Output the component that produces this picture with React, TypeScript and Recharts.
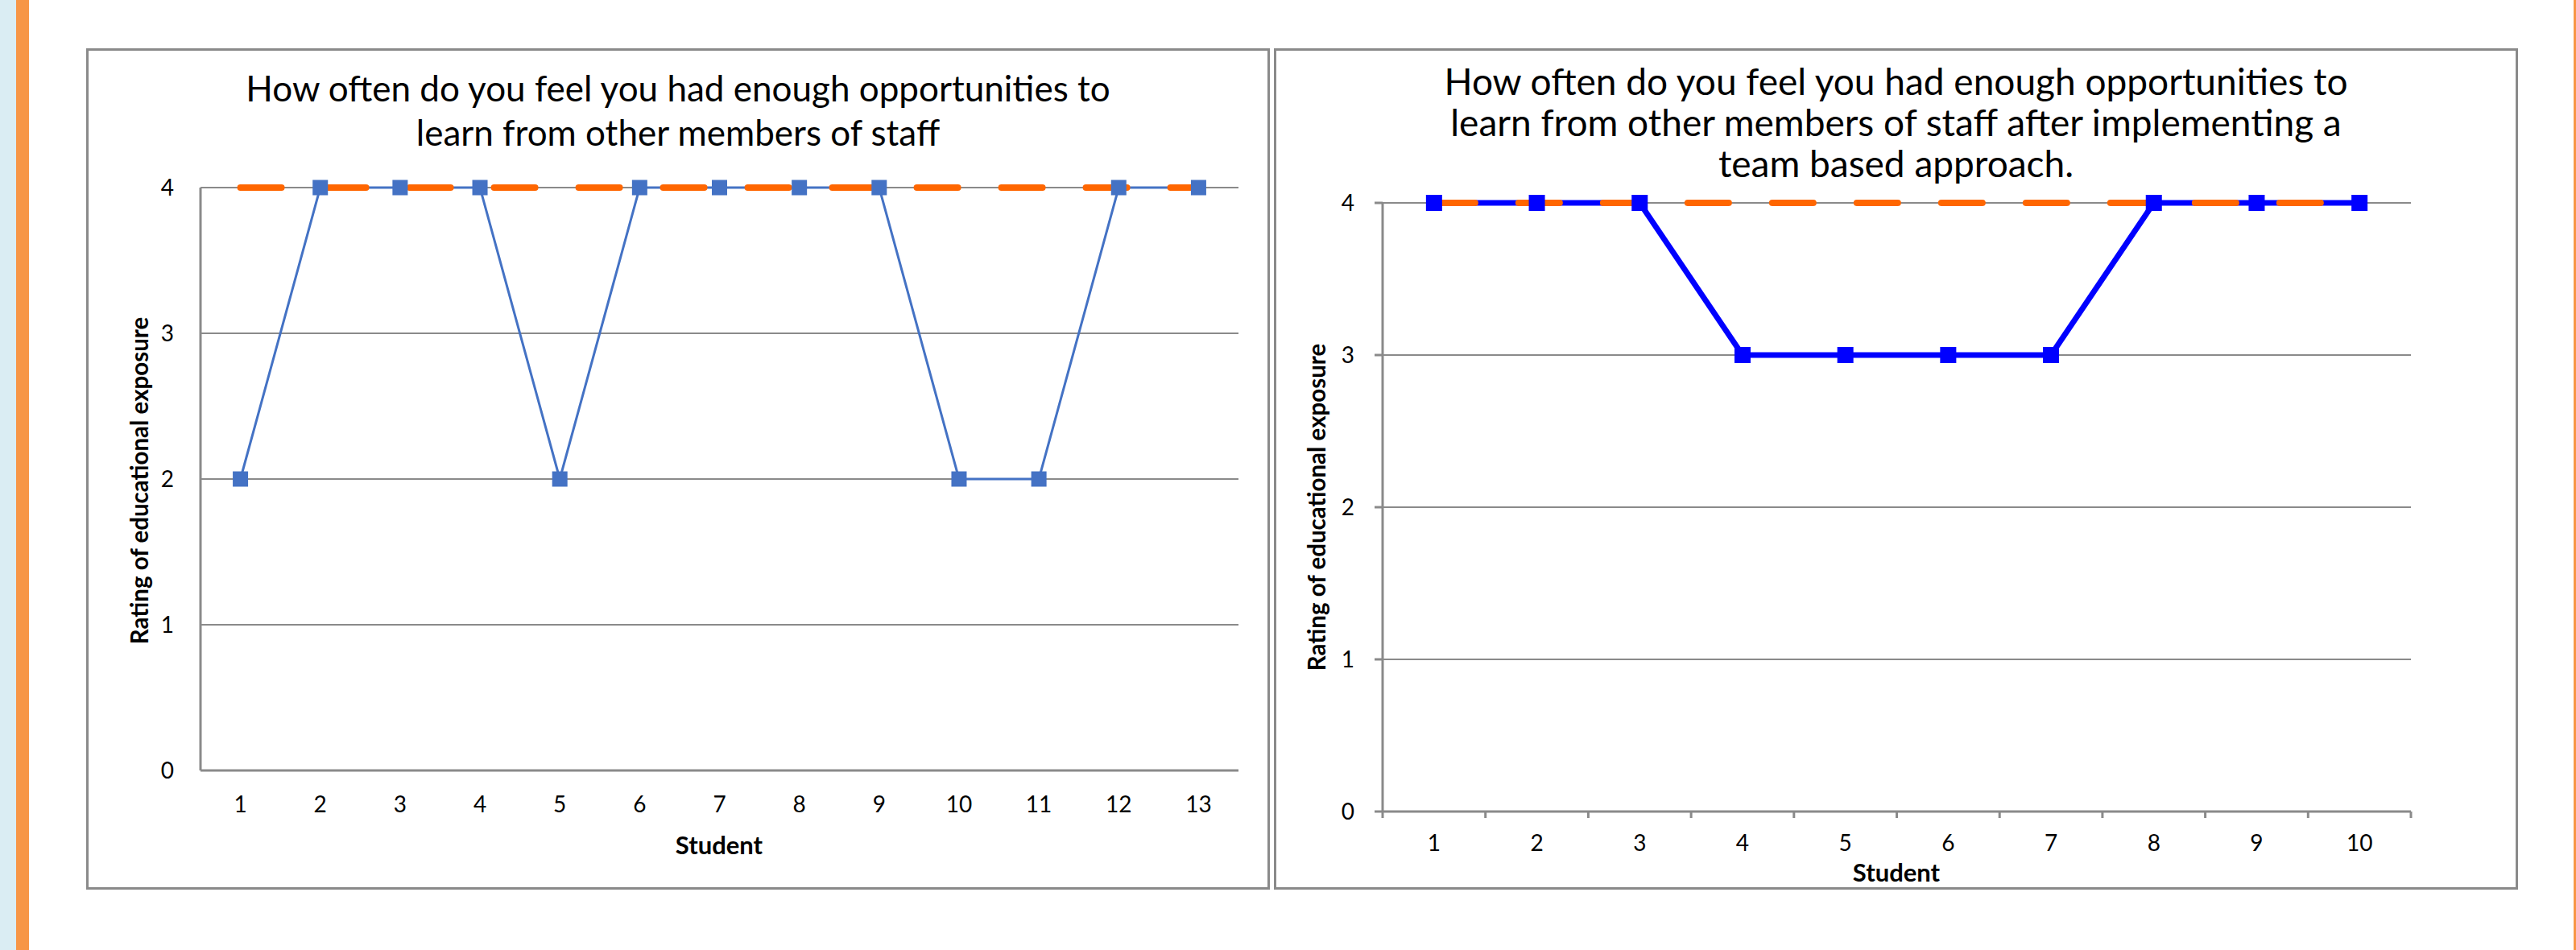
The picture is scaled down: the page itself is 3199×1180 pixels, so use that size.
import React from "react";
import { LineChart, Line, XAxis, YAxis, CartesianGrid } from "recharts";

// before: 13 students, after: 10 students (team based approach)
const beforeStudents = [1, 2, 3, 4, 5, 6, 7, 8, 9, 10, 11, 12, 13];
const beforeRatings = [2, 4, 4, 4, 2, 4, 4, 4, 4, 2, 2, 4, 4];
const beforeTarget = [4, 4, 4, 4, 4, 4, 4, 4, 4, 4, 4, 4, 4];

const afterStudents = [1, 2, 3, 4, 5, 6, 7, 8, 9, 10];
const afterRatings = [4, 4, 4, 3, 3, 3, 3, 4, 4, 4];
const afterTarget = [4, 4, 4, 4, 4, 4, 4, 4, 4, 4];

const yTicks = [0, 1, 2, 3, 4];

const beforeTitle = [
  "How often do you feel you had enough opportunities to",
  "learn from other members of staff",
];
const afterTitle = [
  "How often do you feel you had enough opportunities to",
  "learn from other members of staff after implementing a",
  "team based approach.",
];

const GRID = "#8a8a8a";
const FONT = "Lato, 'Open Sans', sans-serif";
const tickStyle = { fontSize: 28, fill: "#000", fontFamily: FONT };

const beforeData = beforeStudents.map((s, i) => ({
  student: s,
  rating: beforeRatings[i],
  target: beforeTarget[i],
}));
const afterData = afterStudents.map((s, i) => ({
  student: s,
  rating: afterRatings[i],
  target: afterTarget[i],
}));

const squareDot = (color: string, size: number) => (props: any) => {
  const { cx, cy, index } = props;
  if (cx == null || cy == null) return <g key={`d-${index}`} />;
  return (
    <rect
      key={`d-${index}`}
      x={cx - size / 2}
      y={cy - size / 2}
      width={size}
      height={size}
      fill={color}
    />
  );
};

// tick mark only, no label
const noLabel = (props: any) => <g key={`e-${props.index}`} />;

const Box = ({ x, y, w, h }: { x: number; y: number; w: number; h: number }) => (
  <div
    style={{
      position: "absolute",
      left: x,
      top: y,
      width: w,
      height: h,
      border: `3px solid ${GRID}`,
      boxSizing: "border-box",
      pointerEvents: "none",
    }}
  />
);

const Title = ({ lines, x, w, top, size, lh }: any) => (
  <div
    style={{
      position: "absolute",
      left: x,
      top,
      width: w,
      textAlign: "center",
      fontSize: size,
      lineHeight: `${lh}px`,
      color: "#000",
    }}
  >
    {lines.map((l: string) => (
      <div key={l}>{l}</div>
    ))}
  </div>
);

const AxisTitle = ({ text, cx, cy, rotate, size }: any) => (
  <div
    style={{
      position: "absolute",
      left: cx - 300,
      top: cy - 20,
      width: 600,
      height: 40,
      lineHeight: "40px",
      textAlign: "center",
      fontSize: size,
      fontWeight: 700,
      color: "#000",
      transform: rotate ? "rotate(-90deg)" : undefined,
    }}
  >
    {text}
  </div>
);

export default function App() {
  const edgeTicks = [0.5, ...afterStudents.map((s) => s + 0.5)];

  return (
    <div
      style={{
        position: "absolute",
        left: 0,
        top: 0,
        width: 3199,
        height: 1180,
        background: "#fff",
        fontFamily: FONT,
        overflow: "hidden",
      }}
    >
      <div style={{ position: "absolute", left: 0, top: 0, width: 20, height: 1180, background: "#DAEDF3" }} />
      <div style={{ position: "absolute", left: 20, top: 0, width: 16, height: 1180, background: "#F79646" }} />
      <div style={{ position: "absolute", left: 3196, top: 0, width: 3, height: 1180, background: "#F79646" }} />

      {/* left chart */}
      <div style={{ position: "absolute", left: 107, top: 60 }}>
        <LineChart
          width={1470}
          height={1045}
          data={beforeData}
          margin={{ top: 173, right: 39, left: 82, bottom: 88 }}
        >
          <CartesianGrid vertical={false} stroke={GRID} strokeWidth={2} />
          <XAxis
            dataKey="student"
            type="number"
            domain={[0.5, 13.5]}
            ticks={beforeStudents}
            interval={0}
            tickLine={false}
            tickSize={0}
            tickMargin={32}
            height={60}
            axisLine={{ stroke: GRID, strokeWidth: 3 }}
            tick={tickStyle}
          />
          <YAxis
            type="number"
            domain={[0, 4]}
            ticks={yTicks}
            width={60}
            tickLine={false}
            tickSize={0}
            tickMargin={33}
            axisLine={{ stroke: GRID, strokeWidth: 3 }}
            tick={tickStyle}
          />
          <Line
            dataKey="rating"
            stroke="#4472C4"
            strokeWidth={3}
            dot={squareDot("#4472C4", 19)}
            isAnimationActive={false}
          />
          <Line
            dataKey="target"
            stroke="#FF6600"
            strokeWidth={8}
            strokeDasharray="51 54"
            strokeLinecap="round"
            dot={false}
            isAnimationActive={false}
          />
        </LineChart>
      </div>
      <Box x={107} y={60} w={1470} h={1045} />
      <Title lines={beforeTitle} x={107} w={1470} top={82} size={44} lh={55} />
      <AxisTitle text="Student" cx={893} cy={1049} size={31} />
      <AxisTitle text="Rating of educational exposure" cx={173} cy={597} size={29.5} rotate />

      {/* right chart */}
      <div style={{ position: "absolute", left: 1582, top: 60 }}>
        <LineChart
          width={1545}
          height={1045}
          data={afterData}
          margin={{ top: 192, right: 133, left: 65, bottom: 46 }}
        >
          <CartesianGrid xAxisId="main" vertical={false} stroke={GRID} strokeWidth={2} />
          <XAxis
            xAxisId="edge"
            dataKey="student"
            type="number"
            domain={[0.5, 10.5]}
            ticks={edgeTicks}
            interval={0}
            tick={noLabel}
            axisLine={{ stroke: GRID, strokeWidth: 3 }}
            tickLine={{ stroke: GRID, strokeWidth: 3 }}
            tickSize={8}
            height={1}
          />
          <XAxis
            xAxisId="main"
            dataKey="student"
            type="number"
            domain={[0.5, 10.5]}
            ticks={afterStudents}
            interval={0}
            tickLine={false}
            tickSize={0}
            tickMargin={28}
            height={50}
            axisLine={false}
            tick={tickStyle}
          />
          <YAxis
            type="number"
            domain={[0, 4]}
            ticks={yTicks}
            width={70}
            tickSize={10}
            tickMargin={25}
            tickLine={{ stroke: GRID, strokeWidth: 3 }}
            axisLine={{ stroke: GRID, strokeWidth: 3 }}
            tick={tickStyle}
          />
          <Line
            xAxisId="main"
            dataKey="rating"
            stroke="#0000FF"
            strokeWidth={7}
            dot={squareDot("#0000FF", 20)}
            isAnimationActive={false}
          />
          <Line
            xAxisId="edge"
            dataKey="target"
            stroke="#FF6600"
            strokeWidth={8}
            strokeDasharray="51 54"
            strokeLinecap="round"
            dot={false}
            isAnimationActive={false}
          />
        </LineChart>
      </div>
      <Box x={1582} y={60} w={1545} h={1045} />
      <Title lines={afterTitle} x={1582} w={1545} top={75} size={46} lh={51} />
      <AxisTitle text="Student" cx={2355} cy={1083} size={31} />
      <AxisTitle text="Rating of educational exposure" cx={1635} cy={630} size={29.5} rotate />
    </div>
  );
}
